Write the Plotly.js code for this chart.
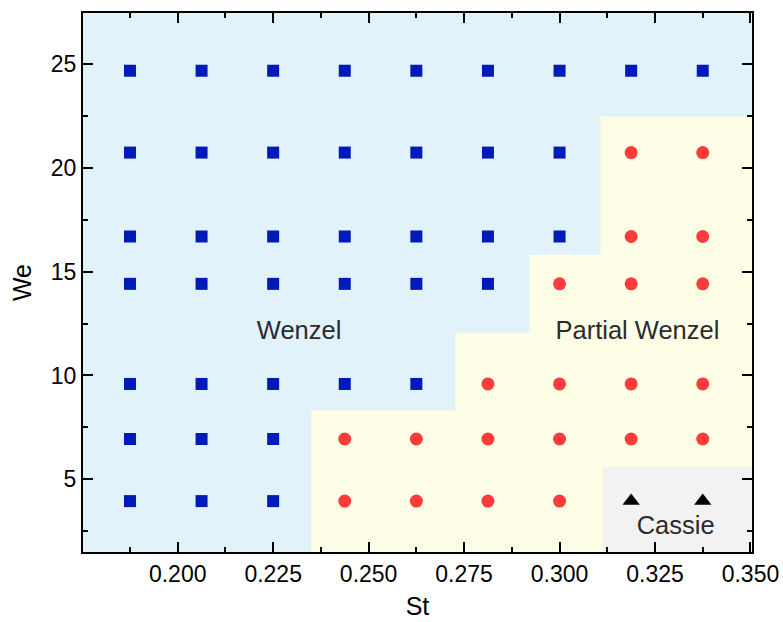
<!DOCTYPE html>
<html>
<head>
<meta charset="utf-8">
<script src="https://cdn.plot.ly/plotly-3.0.1.min.js"></script>
<style>html,body{margin:0;padding:0;background:#fff;}#chart{width:783px;height:622px;}</style>
</head>
<body>
<div id="chart"></div>
<script>
// St grid values
var stValues = [0.1875, 0.20625, 0.225, 0.24375, 0.2625, 0.28125, 0.300, 0.31875, 0.3375];
// We rows
var weValues = [3.95, 6.94, 9.59, 14.41, 16.69, 20.73, 24.67];

// Wenzel points (blue squares)
var wenzelSt = [0.1875,0.20625,0.225,0.24375,0.2625,0.28125,0.300,0.31875,0.3375,
                0.1875,0.20625,0.225,0.24375,0.2625,0.28125,0.300,
                0.1875,0.20625,0.225,0.24375,0.2625,0.28125,0.300,
                0.1875,0.20625,0.225,0.24375,0.2625,0.28125,
                0.1875,0.20625,0.225,0.24375,0.2625,
                0.1875,0.20625,0.225,
                0.1875,0.20625,0.225];
var wenzelWe = [24.67,24.67,24.67,24.67,24.67,24.67,24.67,24.67,24.67,
                20.73,20.73,20.73,20.73,20.73,20.73,20.73,
                16.69,16.69,16.69,16.69,16.69,16.69,16.69,
                14.41,14.41,14.41,14.41,14.41,14.41,
                9.59,9.59,9.59,9.59,9.59,
                6.94,6.94,6.94,
                3.95,3.95,3.95];

// Partial Wenzel points (red circles)
var partialSt = [0.31875,0.3375,
                 0.31875,0.3375,
                 0.300,0.31875,0.3375,
                 0.28125,0.300,0.31875,0.3375,
                 0.24375,0.2625,0.28125,0.300,0.31875,0.3375,
                 0.24375,0.2625,0.28125,0.300];
var partialWe = [20.73,20.73,
                 16.69,16.69,
                 14.41,14.41,14.41,
                 9.59,9.59,9.59,9.59,
                 6.94,6.94,6.94,6.94,6.94,6.94,
                 3.95,3.95,3.95,3.95];

// Cassie points (black triangles)
var cassieSt = [0.31875, 0.3375];
var cassieWe = [3.95, 3.95];

// Region boundaries
var partialRegionSt = [0.2350, 0.2350, 0.2727, 0.2727, 0.2921, 0.2921, 0.3107, 0.3107, 0.36, 0.36];
var partialRegionWe = [0, 8.32, 8.32, 12.06, 12.06, 15.80, 15.80, 22.47, 22.47, 0];
var cassieRegionSt = [0.3112, 0.3112, 0.36, 0.36];
var cassieRegionWe = [0, 5.59, 5.59, 0];

// Region labels
var labelText = ['Wenzel', 'Partial Wenzel', 'Cassie'];
var labelSt = [0.2318, 0.3204, 0.3304];
var labelWe = [12.05, 12.05, 2.65];

var xRange = [0.1752, 0.3504];
var yRange = [1.5, 27.45];

var FONT = 'Liberation Sans, Arial, sans-serif';

var traces = [
  {x: partialRegionSt, y: partialRegionWe, mode: 'lines', fill: 'toself',
   fillcolor: '#FEFEE7', line: {width: 0}, hoverinfo: 'skip', showlegend: false},
  {x: cassieRegionSt, y: cassieRegionWe, mode: 'lines', fill: 'toself',
   fillcolor: '#F2F2F2', line: {width: 0}, hoverinfo: 'skip', showlegend: false},
  {x: wenzelSt, y: wenzelWe, mode: 'markers', type: 'scatter',
   marker: {symbol: 'square', size: 12, color: '#0019B9'}, showlegend: false},
  {x: partialSt, y: partialWe, mode: 'markers', type: 'scatter',
   marker: {symbol: 'circle', size: 13, color: '#FF3B3B'}, showlegend: false},
  {x: cassieSt, y: cassieWe, mode: 'markers', type: 'scatter',
   marker: {symbol: 'triangle-up', size: 15, color: '#000000'}, showlegend: false},
  {x: labelSt, y: labelWe, mode: 'text', text: labelText, textposition: 'middle center',
   textfont: {family: FONT, size: 25.5, color: '#2b2b2b'},
   hoverinfo: 'skip', showlegend: false}
];

var axisCommon = {
  showline: true, linecolor: '#000', linewidth: 2, mirror: 'ticks',
  ticks: 'inside', ticklen: 10, tickwidth: 2, tickcolor: '#000',
  showgrid: false, zeroline: false,
  tickfont: {family: FONT, size: 23, color: '#000'}
};

var layout = {
  width: 783, height: 622,
  margin: {l: 83, r: 31, t: 13, b: 70},
  paper_bgcolor: '#ffffff',
  plot_bgcolor: '#E1F2FB',
  xaxis: Object.assign({}, axisCommon, {
    range: xRange, tick0: 0.2, dtick: 0.025, tickformat: '.3f',
    minor: {ticks: 'inside', ticklen: 5, tickwidth: 2, tickcolor: '#000', dtick: 0.0125, tick0: 0.2},
    title: {text: 'St', standoff: 12, font: {family: FONT, size: 25, color: '#000'}}
  }),
  yaxis: Object.assign({}, axisCommon, {
    range: yRange, tick0: 0, dtick: 5,
    minor: {ticks: 'inside', ticklen: 5, tickwidth: 2, tickcolor: '#000', dtick: 2.5, tick0: 0},
    title: {text: 'We', standoff: 12, font: {family: FONT, size: 25, color: '#000'}}
  })
};

Plotly.newPlot('chart', traces, layout, {displayModeBar: false, staticPlot: true});
</script>
</body>
</html>
